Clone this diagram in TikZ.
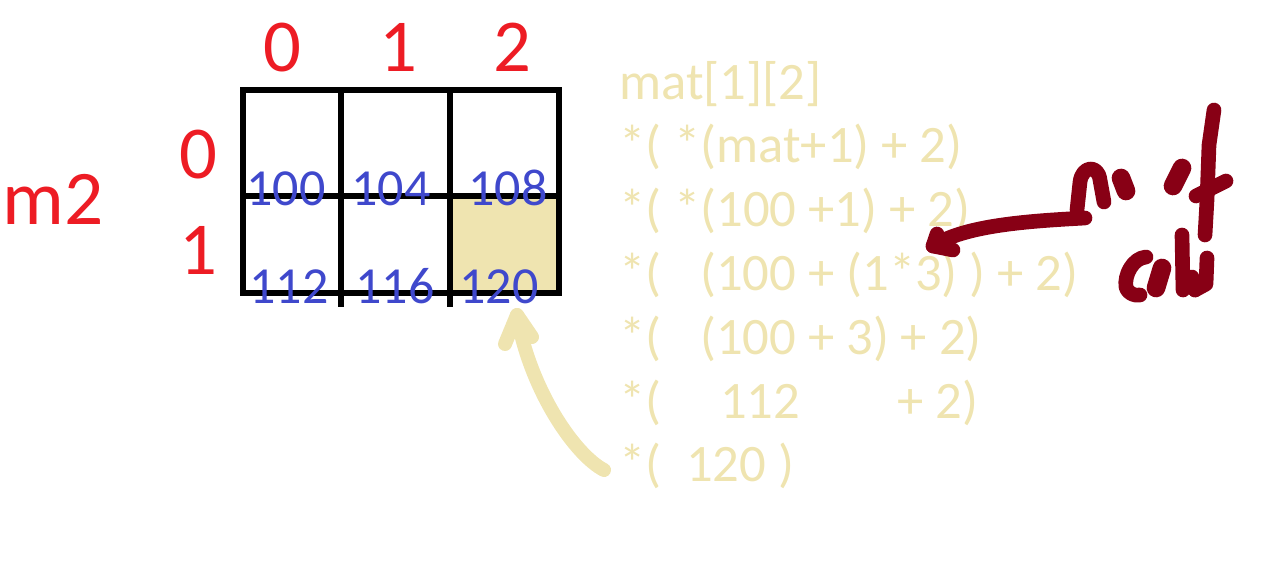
\documentclass[tikz,border=0pt]{standalone}
\usepackage{fontspec}
\setmainfont{Carlito}
\definecolor{pred}{RGB}{237,28,36}
\definecolor{pblue}{RGB}{63,72,204}
\definecolor{ptan}{RGB}{239,228,176}
\definecolor{pwine}{RGB}{136,0,21}
\tikzset{
  redlbl/.style={inner sep=0pt, anchor=base, text=pred, font=\fontsize{56pt}{60pt}\selectfont},
  addr/.style={inner sep=0pt, anchor=base, text=pblue, font=\fontsize{39pt}{42pt}\selectfont},
  expr/.style={inner sep=0pt, anchor=base west, text=ptan, font=\fontsize{39.5pt}{42pt}\selectfont},
  gridline/.style={line width=5pt, black},
  tanpen/.style={ptan, line width=10.5pt, line cap=round, line join=round},
  winepen/.style={pwine, line width=11pt, line cap=round, line join=round},
  blobpen/.style={winepen, line width=14pt},
}
\begin{document}
\begin{tikzpicture}[x=0.75pt, y=-0.75pt]
\useasboundingbox (0,0) rectangle (1263,563);
% highlighted cell
\fill[ptan] (450,196) rectangle (559,293);
% grid
\draw[gridline] (243,90) rectangle (559,293);
\draw[gridline] (243,196) -- (559,196);
\draw[gridline] (341,90) -- (341,307);
\draw[gridline] (450,90) -- (450,307);
% column / row labels
\node[redlbl] (c0) at (282,72) {0};
\node[redlbl] (c1) at (398,72) {1};
\node[redlbl] (c2) at (512,72) {2};
\node[redlbl] (r0) at (198,179) {0};
\node[redlbl] (r1) at (198,274) {1};
\node[redlbl, anchor=base west, font=\fontsize{58pt}{60pt}\selectfont] (m2) at (2,224) {m2};
% addresses
\node[addr] (a100) at (286,205) {100};
\node[addr] (a104) at (391,205) {104};
\node[addr] (a108) at (508,205) {108};
\node[addr] (a112) at (289,303) {112};
\node[addr] (a116) at (395,303) {116};
\node[addr] (a120) at (499,303) {120};
% expressions
\node[expr] (e1) at (619,100) {mat[1][2]};
\node[expr] (e2s) at (619,163) {*(};
\node[expr] (e2) at (674,163) {*(mat+1) + 2)};
\node[expr] (e3s) at (619,226) {*(};
\node[expr] (e3) at (674,226) {*(100 +1) + 2)};
\node[expr] (e4s) at (619,290) {*(};
\node[expr] (e4) at (700,290) {(100 + (1*3) ) + 2)};
\node[expr] (e5s) at (619,354) {*(};
\node[expr] (e5) at (700,354) {(100 + 3) + 2)};
\node[expr] (e6s) at (619,418) {*(};
\node[expr] (e6a) at (720,418) {112};
\node[expr] (e6b) at (897,418) {+ 2)};
\node[expr] (e7s) at (619,481) {*(};
\node[expr] (e7) at (686,481) {120 )};
% tan arrow from last line to cell 120
\coordinate (ts) at (604,470);
\coordinate (tt) at (517,315);
\draw[tanpen] (ts) .. controls (575,455) and (530,390) .. (tt);
\draw[tanpen] (505,344) -- (tt) -- (532,337);
% wine arrow: "no of cols"
\coordinate (ws) at (1085,218);
\coordinate (wt) at (933,246);
\draw[winepen] (ws) .. controls (1030,221) and (965,225) .. (wt);
\draw[winepen] (937,234) -- (wt) -- (953,250);
% n
\draw[winepen] (1077,210) -- (1080,182) .. controls (1082,166) and (1098,164) .. (1100,180) -- (1104,202);
% o
\draw[blobpen] (1121,178) -- (1126,191);
% o of "of"
\draw[blobpen] (1182,168) -- (1173,186);
% f
\draw[winepen] (1214,110) -- (1209,145) -- (1207,200) -- (1205,235);
\draw[winepen] (1196,196) -- (1226,181);
% c
\draw[winepen] (1146,257) .. controls (1133,258) and (1124,275) .. (1126,287) .. controls (1128,294) and (1135,296) .. (1140,295);
% o
\draw[blobpen] (1162,268) -- (1156,288);
% l
\draw[winepen] (1182,235) -- (1183,290);
% s
\draw[winepen] (1207,258) -- (1206,284) -- (1195,290);
\draw[winepen] (1192,277) -- (1195,290);
\end{tikzpicture}
\end{document}
